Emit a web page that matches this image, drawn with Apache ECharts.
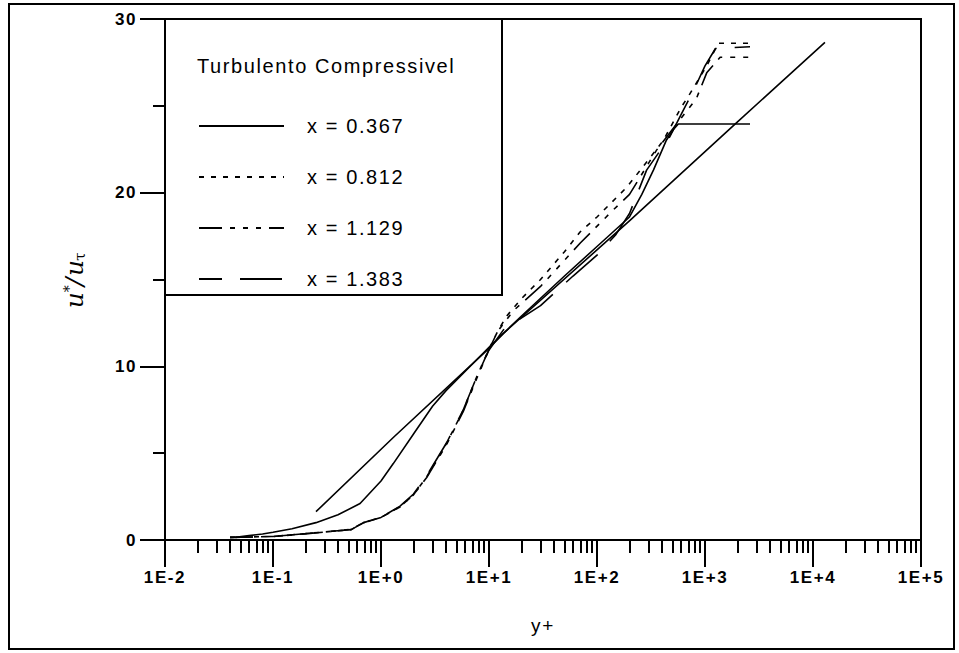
<!DOCTYPE html>
<html>
<head>
<meta charset="utf-8">
<script src="https://cdn.jsdelivr.net/npm/echarts@6/dist/echarts.min.js"></script>
<style>
  html, body { margin: 0; padding: 0; background: #fff; }
  #chart { width: 959px; height: 653px; }
  #chart text { letter-spacing: 1.6px; }
</style>
</head>
<body>
<div id="chart"></div>
<script>
// Perfis de velocidade turbulenta compressível: u*/u_tau em função de y+

// eixo x (logarítmico): décadas e rótulos
const xDecades = [0.01, 0.1, 1, 10, 100, 1000, 10000, 100000];
const xTickLabels = ['1E-2', '1E-1', '1E+0', '1E+1', '1E+2', '1E+3', '1E+4', '1E+5'];
const yTickValues = [0, 10, 20, 30];

// lei logarítmica (linha reta de referência)
const logLawY = [0.25, 1.3, 9.5, 13.6, 202, 1897, 12900];
const logLawU = [1.63, 5.9, 10.9, 11.9, 18.4, 23.95, 28.65];

// x = 0.367
const s1Y = [0.045, 0.06, 0.08, 0.1, 0.15, 0.25, 0.4, 0.64, 1.0, 1.3, 2.0, 3.0, 4.0, 6.0, 10, 20, 50, 100, 200, 260, 333, 437, 520, 566, 2612];
const s1U = [0.15, 0.25, 0.35, 0.45, 0.65, 1.0, 1.45, 2.1, 3.4, 4.4, 6.1, 7.7, 8.6, 9.7, 11.1, 12.9, 15.2, 16.9, 18.6, 19.9, 21.3, 23.0, 23.7, 23.95, 23.95];

// x = 0.812
const s2Y = [0.04, 0.1, 0.22, 0.35, 0.53, 0.69, 1.0, 1.5, 2.0, 2.65, 4.05, 5.78, 7.7, 9.9, 12, 14.6, 20, 30, 50, 70, 100, 188, 300, 411, 600, 726, 1037, 1328, 2612];
const s2U = [0.15, 0.2, 0.39, 0.5, 0.6, 1.0, 1.3, 1.92, 2.6, 3.64, 5.57, 7.48, 9.4, 10.94, 12.0, 12.9, 13.9, 15.0, 16.6, 17.75, 18.6, 20.3, 21.9, 23.0, 24.9, 25.7, 27.3, 28.6, 28.6];

// x = 1.129
const s3Y = [0.04, 0.1, 0.22, 0.35, 0.53, 0.69, 1.0, 1.5, 2.0, 2.65, 4.05, 5.78, 7.7, 9.9, 12, 16.8, 30, 70, 141, 200, 356, 585, 830, 1037, 1380, 2612];
const s3U = [0.15, 0.2, 0.38, 0.5, 0.62, 1.0, 1.3, 1.9, 2.6, 3.6, 5.5, 7.4, 9.3, 10.9, 12.0, 13.2, 14.6, 17.1, 19.0, 19.9, 22.45, 24.2, 25.4, 26.9, 27.8, 27.8];

// x = 1.383
const s4Y = [0.04, 0.1, 0.22, 0.35, 0.53, 0.69, 1.0, 1.5, 2.0, 2.65, 4.05, 5.78, 7.7, 9.9, 13.6, 30, 60, 100, 150, 200, 288, 470, 600, 800, 1000, 1250, 2612];
const s4U = [0.15, 0.2, 0.39, 0.5, 0.6, 1.0, 1.3, 1.95, 2.65, 3.7, 5.6, 7.5, 9.4, 10.9, 12.1, 13.5, 15.2, 16.4, 17.6, 18.8, 21.3, 23.2, 24.5, 26.0, 27.3, 28.3, 28.4];

const seriesNames = ['x = 0.367', 'x = 0.812', 'x = 1.129', 'x = 1.383'];

// marcas menores do eixo log: 2..9 em cada década
const minorTicks = [];
for (let d = -2; d < 5; d++) {
  for (let k = 2; k <= 9; k++) minorTicks.push(k * Math.pow(10, d));
}

const pairs = (xs, ys) => xs.map((v, i) => [v, ys[i]]);

const chart = echarts.init(document.getElementById('chart'), null, { renderer: 'svg' });

const black = { color: '#000' };
const baseLine = { color: '#000', width: 1.6 };

chart.setOption({
  animation: false,
  backgroundColor: '#fff',
  color: ['#000'],
  grid: { left: 165, top: 19, width: 756, height: 521, show: true, borderColor: '#000', borderWidth: 2, backgroundColor: 'transparent' },
  xAxis: [
    {
      type: 'log', logBase: 10, min: 0.01, max: 100000,
      name: 'y+', nameLocation: 'middle', nameGap: 76,
      nameTextStyle: { fontFamily: 'Liberation Sans', fontSize: 19, color: '#000' },
      axisLine: { show: true, lineStyle: { color: '#000', width: 2 } },
      axisTick: { show: true, inside: false, length: 27, lineStyle: { color: '#000', width: 2 } },
      axisLabel: {
        margin: 29, color: '#000', fontFamily: 'Liberation Sans', fontWeight: 'bold', fontSize: 17,
        formatter: v => xTickLabels[Math.round(Math.log10(v)) + 2]
      },
      splitLine: { show: false }
    },
    {
      type: 'log', logBase: 10, min: 0.01, max: 100000, position: 'bottom',
      axisLine: { show: false },
      axisTick: { show: true, inside: false, length: 13, customValues: minorTicks, lineStyle: { color: '#000', width: 2 } },
      axisLabel: { show: false },
      splitLine: { show: false }
    }
  ],
  yAxis: {
    type: 'value', min: 0, max: 30, interval: 10,
    name: '{u|u}{s|*}{u|/u}{t|τ}', nameLocation: 'middle', nameRotate: 90, nameGap: 78,
    nameTextStyle: {
      rich: {
        u: { fontFamily: 'DejaVu Serif', fontStyle: 'italic', fontSize: 25, color: '#000' },
        s: { fontFamily: 'DejaVu Serif', fontSize: 14, verticalAlign: 'top', color: '#000' },
        t: { fontFamily: 'DejaVu Serif', fontSize: 15, verticalAlign: 'bottom', color: '#000' }
      }
    },
    axisLine: { show: true, lineStyle: { color: '#000', width: 2 } },
    axisTick: { show: true, inside: false, length: 25, lineStyle: { color: '#000', width: 2 } },
    minorTick: { show: true, splitNumber: 2, length: 12, lineStyle: { color: '#000', width: 2 } },
    axisLabel: {
      margin: 28, color: '#000', fontFamily: 'Liberation Sans', fontWeight: 'bold', fontSize: 17,
      formatter: v => (yTickValues.indexOf(v) >= 0 ? String(v) : '')
    },
    splitLine: { show: false },
    minorSplitLine: { show: false }
  },
  legend: {
    data: seriesNames,
    orient: 'vertical', left: 193, top: 109, z: 20,
    itemWidth: 85, itemHeight: 14, itemGap: 27,
    itemStyle: { opacity: 0 },
    textStyle: { fontFamily: 'Liberation Sans', fontSize: 20, color: '#000', lineHeight: 24, padding: [0, 0, 0, 18] },
    selectedMode: false
  },
  graphic: [
    { type: 'rect', shape: { x: 9, y: 4, width: 945, height: 645 }, style: { fill: 'none', stroke: '#000', lineWidth: 2 }, silent: true },
    { type: 'rect', shape: { x: 165, y: 19, width: 337, height: 276 }, style: { fill: '#fff', stroke: '#000', lineWidth: 2 }, z: 5, silent: true },
    { type: 'text', left: 197, top: 56, z: 6, style: { text: 'Turbulento Compressivel', fontFamily: 'Liberation Sans', fontSize: 20, fill: '#000' } }
  ],
  series: [
    { name: 'lei log', type: 'line', symbol: 'none', data: pairs(logLawY, logLawU), itemStyle: black, lineStyle: baseLine, z: 2 },
    { name: seriesNames[0], type: 'line', symbol: 'none', data: pairs(s1Y, s1U), itemStyle: black, lineStyle: baseLine, z: 2 },
    { name: seriesNames[1], type: 'line', symbol: 'none', data: pairs(s2Y, s2U), itemStyle: black, lineStyle: { color: '#000', width: 1.6, type: [5, 7] }, z: 2 },
    { name: seriesNames[2], type: 'line', symbol: 'none', data: pairs(s3Y, s3U), itemStyle: black, lineStyle: { color: '#000', width: 1.6, type: [23, 8, 5, 8, 5, 8, 5, 8] }, z: 2 },
    { name: seriesNames[3], type: 'line', symbol: 'none', data: pairs(s4Y, s4U), itemStyle: black, lineStyle: { color: '#000', width: 1.6, type: [42, 18], dashOffset: 19 }, z: 2 }
  ]
});
</script>
</body>
</html>
